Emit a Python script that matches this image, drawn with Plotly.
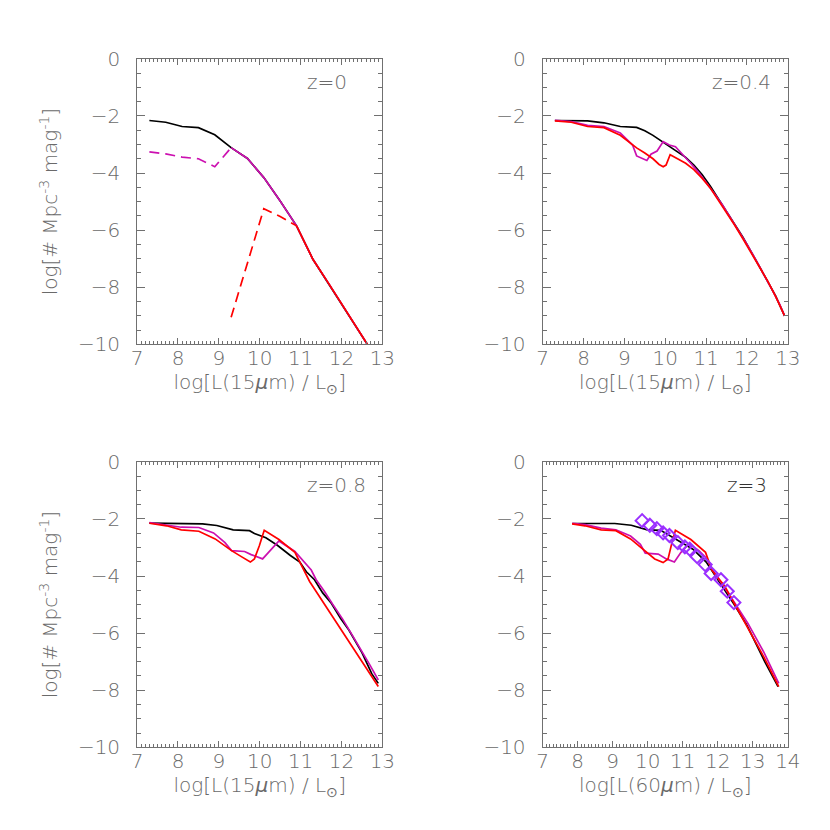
import plotly.graph_objects as go
from plotly.subplots import make_subplots

# ---- z = 0 (15 micron LF) ----
lum_z0 = [7.3, 7.7, 8.1, 8.5, 8.9, 9.3, 9.7, 10.1, 10.5, 10.9, 11.3, 11.7, 12.1, 12.5, 12.9]
black_z0 = [-2.16, -2.22, -2.37, -2.41, -2.66, -3.11, -3.49, -4.16, -4.98, -5.85, -7.02, -7.9, -8.8, -9.7, -10.6]
lum_mag_dash_z0 = [7.3, 7.7, 8.1, 8.5, 8.9, 9.3]
mag_dash_z0 = [-3.26, -3.33, -3.44, -3.50, -3.78, -3.11]
lum_red_dash_z0 = [9.3, 10.1, 10.5, 10.9]
red_dash_z0 = [-9.05, -5.25, -5.52, -5.85]

# ---- z = 0.4 ----
lum_black_z04 = [7.3, 7.7, 8.1, 8.5, 8.9, 9.3, 9.5, 9.7, 9.9, 10.1, 10.3, 10.5, 10.7, 10.9,
                 11.1, 11.3, 11.5, 11.7, 11.9, 12.1, 12.3, 12.5, 12.7, 12.92]
black_z04 = [-2.16, -2.16, -2.17, -2.24, -2.37, -2.40, -2.52, -2.68, -2.87, -3.05, -3.25, -3.45, -3.72, -4.05,
             -4.45, -4.90, -5.33, -5.78, -6.25, -6.75, -7.25, -7.75, -8.3, -9.0]
lum_mag_z04 = [7.3, 7.7, 8.1, 8.5, 8.9, 9.2, 9.3, 9.55, 9.65, 9.8, 9.95, 10.1, 10.25, 10.4, 10.6, 10.8,
               11.0, 11.2, 11.4, 11.6, 11.8, 12.0, 12.2, 12.4, 12.6, 12.8, 12.92]
mag_z04 = [-2.15, -2.20, -2.33, -2.37, -2.60, -3.02, -3.40, -3.56, -3.34, -3.23, -2.90, -3.02, -3.08, -3.30,
           -3.62, -3.95, -4.32, -4.72, -5.12, -5.57, -6.02, -6.5, -7.0, -7.5, -8.05, -8.6, -9.0]
lum_red_z04 = [7.3, 7.7, 8.1, 8.5, 8.9, 9.3, 9.5, 9.7, 9.85, 9.95, 10.02, 10.12, 10.3, 10.5, 10.7, 10.9,
               11.1, 11.3, 11.5, 11.7, 11.9, 12.1, 12.3, 12.5, 12.7, 12.92]
red_z04 = [-2.17, -2.22, -2.37, -2.41, -2.68, -3.12, -3.30, -3.50, -3.70, -3.78, -3.72, -3.36, -3.50, -3.66,
           -3.88, -4.18, -4.52, -4.95, -5.38, -5.83, -6.3, -6.78, -7.27, -7.77, -8.32, -9.0]

# ---- z = 0.8 ----
lum_black_z08 = [7.3, 7.7, 8.1, 8.6, 8.95, 9.35, 9.75, 9.87, 10.15, 10.43, 10.75, 10.98, 11.14, 11.34,
                 11.54, 11.74, 11.98, 12.18, 12.5, 12.74, 12.9]
black_z08 = [-2.15, -2.16, -2.16, -2.17, -2.23, -2.38, -2.41, -2.51, -2.66, -2.92, -3.28, -3.51, -3.85, -4.13,
             -4.59, -4.93, -5.49, -5.89, -6.68, -7.42, -7.76]
lum_mag_z08 = [7.3, 8.08, 8.51, 8.87, 9.15, 9.31, 9.63, 9.79, 10.07, 10.47, 10.86, 11.26, 11.38, 11.58,
               11.78, 12.02, 12.26, 12.5, 12.7, 12.9]
mag_z08 = [-2.13, -2.29, -2.30, -2.49, -2.83, -3.11, -3.14, -3.25, -3.40, -2.77, -3.14, -3.79, -4.13, -4.53,
           -4.98, -5.49, -6.06, -6.62, -7.13, -7.64]
lum_red_z08 = [7.3, 7.72, 8.08, 8.51, 8.91, 9.31, 9.55, 9.77, 9.87, 9.99, 10.11, 10.47, 10.86, 11.22, 12.9]
red_z08 = [-2.15, -2.24, -2.38, -2.43, -2.70, -3.11, -3.32, -3.51, -3.40, -2.94, -2.40, -2.72, -3.17, -4.19, -7.87]

# ---- z = 3 (60 micron LF) ----
lum_black_z3 = [7.85, 9.06, 9.53, 9.99, 10.37, 10.83, 11.29, 11.67, 12.08, 12.46, 12.83, 13.34, 13.72]
black_z3 = [-2.16, -2.16, -2.22, -2.38, -2.40, -2.72, -3.06, -3.51, -4.25, -4.98, -5.72, -7.0, -7.87]
lum_mag_z3 = [7.84, 8.21, 8.67, 9.09, 9.51, 9.79, 9.93, 10.3, 10.53, 10.76, 10.95, 11.18, 11.46, 11.65,
              11.88, 12.2, 12.48, 12.86, 13.32, 13.74]
mag_z3 = [-2.15, -2.2, -2.32, -2.38, -2.60, -2.89, -3.20, -3.23, -3.40, -3.51, -3.17, -2.87, -3.11, -3.34,
          -3.85, -4.42, -4.93, -5.66, -6.68, -7.76]
lum_red_z3 = [7.84, 8.21, 8.67, 9.09, 9.51, 9.97, 10.2, 10.44, 10.58, 10.67, 10.79, 11.23, 11.65, 11.83,
              12.2, 12.48, 12.86, 13.32, 13.74]
red_z3 = [-2.17, -2.24, -2.38, -2.41, -2.70, -3.17, -3.40, -3.53, -3.40, -2.94, -2.40, -2.72, -3.17, -3.79,
          -4.36, -4.98, -5.83, -6.85, -7.87]
lum_obs_z3 = [9.84, 10.06, 10.26, 10.44, 10.62, 10.86, 11.06, 11.2, 11.41, 11.64, 11.81, 12.09, 12.27, 12.46]
obs_z3 = [-2.06, -2.22, -2.34, -2.49, -2.58, -2.83, -2.98, -3.06, -3.32, -3.6, -3.91, -4.13, -4.53, -4.93]

BLACK = "#000000"
MAGENTA = "#CC10B0"
RED = "#FF0000"
PURPLE = "#9B30FF"
AXIS_GREY = "#707070"
TEXT_GREY = "#6a6a6a"
FONT = "DejaVu Sans"
LW = 1.7
DASH = "10px,6px"

fig = make_subplots(rows=2, cols=2)


def line(x, y, color, row, col, dash="solid"):
    fig.add_trace(
        go.Scatter(x=x, y=y, mode="lines", line=dict(color=color, width=LW, dash=dash),
                   showlegend=False, hoverinfo="skip"),
        row=row, col=col,
    )


# z=0
line(lum_z0, black_z0, BLACK, 1, 1)
line(lum_mag_dash_z0, mag_dash_z0, MAGENTA, 1, 1, DASH)
line(lum_z0[5:], black_z0[5:], MAGENTA, 1, 1)
line(lum_red_dash_z0, red_dash_z0, RED, 1, 1, DASH)
line(lum_z0[9:], black_z0[9:], RED, 1, 1)

# z=0.4
line(lum_black_z04, black_z04, BLACK, 1, 2)
line(lum_mag_z04, mag_z04, MAGENTA, 1, 2)
line(lum_red_z04, red_z04, RED, 1, 2)

# z=0.8
line(lum_black_z08, black_z08, BLACK, 2, 1)
line(lum_mag_z08, mag_z08, MAGENTA, 2, 1)
line(lum_red_z08, red_z08, RED, 2, 1)

# z=3
line(lum_black_z3, black_z3, BLACK, 2, 2)
line(lum_mag_z3, mag_z3, MAGENTA, 2, 2)
line(lum_red_z3, red_z3, RED, 2, 2)
fig.add_trace(
    go.Scatter(x=lum_obs_z3, y=obs_z3, mode="markers",
               marker=dict(symbol="diamond-open", size=10, color=PURPLE, line=dict(width=2, color=PURPLE)),
               showlegend=False, hoverinfo="skip"),
    row=2, col=2,
)

W = 830.0
x_dom = {1: [126 / W, 377 / W], 2: [541 / W, 792 / W]}
y_dom = {1: [1 - 334 / W, 1 - 40 / W], 2: [1 - 749 / W, 1 - 455 / W]}

tickfont = dict(family=FONT, size=20, color=TEXT_GREY, weight=300)
titlefont = dict(family=FONT, size=20, color=TEXT_GREY, weight=300)
common = dict(
    showgrid=False, zeroline=False, showline=True, linecolor=AXIS_GREY, linewidth=1,
    mirror="allticks", ticks="inside", tickcolor=AXIS_GREY, tickwidth=1, tickfont=tickfont,
)

x15 = "log[L(15<i>μ</i>m) / L<sub>⊙</sub>]"
x60 = "log[L(60<i>μ</i>m) / L<sub>⊙</sub>]"
ytitle = "log[# Mpc<sup>-3</sup> mag<sup>-1</sup>]"

for row in (1, 2):
    for col in (1, 2):
        last = row == 2 and col == 2
        fig.update_xaxes(
            common, domain=x_dom[col], range=[7, 14 if last else 13], dtick=1, tick0=7, ticklen=6,
            minor=dict(ticks="inside", dtick=0.1, ticklen=3, tickcolor=AXIS_GREY, tickwidth=1),
            ticklabelstandoff=-4,
            title=dict(text=x60 if last else x15, font=titlefont, standoff=5),
            row=row, col=col,
        )
        fig.update_yaxes(
            common, domain=y_dom[row], range=[-10, 0], dtick=2, tick0=0, ticklen=8,
            minor=dict(ticks="inside", dtick=0.5, ticklen=4, tickcolor=AXIS_GREY, tickwidth=1),
            ticklabelstandoff=12,
            title=dict(text=ytitle if col == 1 else "", font=titlefont, standoff=14),
            row=row, col=col,
        )

labels = [("z=0", 11.1, "x", "y", TEXT_GREY), ("z=0.4", 11.1, "x2", "y2", TEXT_GREY),
          ("z=0.8", 11.1, "x3", "y3", TEXT_GREY), ("z=3", 12.2, "x4", "y4", "#333333")]
for text, xpos, xr, yr, color in labels:
    fig.add_annotation(text=text, x=xpos, y=-0.8, xref=xr, yref=yr, xanchor="left", yanchor="middle",
                       showarrow=False, font=dict(family=FONT, size=20, color=color, weight=300))

fig.update_layout(
    width=830, height=830, margin=dict(l=0, r=0, t=0, b=0),
    paper_bgcolor="white", plot_bgcolor="white", showlegend=False,
)

fig.write_html("out.html")
